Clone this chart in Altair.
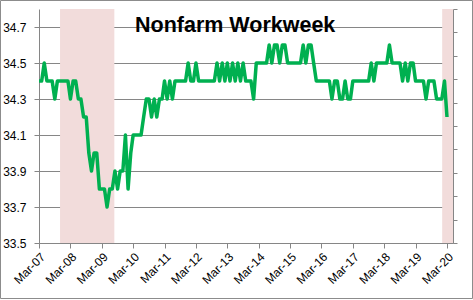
import altair as alt
import pandas as pd

# Average weekly hours, monthly from Mar-2007 to Mar-2020
START = "2007-03-01"
hours = [
    34.4, 34.4, 34.5, 34.4, 34.4, 34.4, 34.3, 34.4, 34.4, 34.4,  # Mar07-Dec07
    34.4, 34.4, 34.3, 34.4, 34.4, 34.3, 34.3, 34.2, 34.2, 34.0,  # Jan08-Oct08
    33.9, 34.0, 34.0, 33.8, 33.8, 33.8, 33.7, 33.8, 33.8, 33.9,  # Nov08-Aug09
    33.8, 33.9, 33.9, 34.1, 33.8, 34.0, 34.1, 34.1, 34.1, 34.1,  # Sep09-Jun10
    34.2, 34.3, 34.3, 34.2, 34.3, 34.2, 34.3, 34.3, 34.4, 34.3,  # Jul10-Apr11
    34.4, 34.3, 34.4, 34.4, 34.4, 34.4, 34.4, 34.5, 34.4, 34.4,  # May11-Feb12
    34.5, 34.4, 34.4, 34.4, 34.4, 34.4, 34.4, 34.4, 34.5, 34.4,  # Mar12-Dec12
    34.5, 34.4, 34.5, 34.4, 34.5, 34.4, 34.5, 34.4, 34.5, 34.4,  # Jan13-Oct13
    34.4, 34.4, 34.3, 34.5, 34.5, 34.5, 34.5, 34.5, 34.6, 34.5,  # Nov13-Aug14
    34.6, 34.6, 34.5, 34.6, 34.6, 34.5, 34.5, 34.5, 34.5, 34.5,  # Sep14-Jun15
    34.5, 34.6, 34.5, 34.6, 34.6, 34.5, 34.4, 34.4, 34.4, 34.4,  # Jul15-Apr16
    34.4, 34.4, 34.3, 34.4, 34.4, 34.3, 34.3, 34.4, 34.3, 34.3,  # May16-Feb17
    34.4, 34.4, 34.4, 34.4, 34.4, 34.4, 34.4, 34.5, 34.4, 34.5,  # Mar17-Dec17
    34.5, 34.5, 34.5, 34.5, 34.6, 34.5, 34.5, 34.5, 34.5, 34.4,  # Jan18-Oct18
    34.5, 34.4, 34.5, 34.5, 34.4, 34.4, 34.4, 34.4, 34.3, 34.4,  # Nov18-Aug19
    34.4, 34.4, 34.3, 34.3, 34.3, 34.4, 34.2,                    # Sep19-Mar20
]
rec_start = ["2007-11-01", "2020-01-05"]
rec_end = ["2009-07-25", "2020-05-10"]
y_ticks = [33.5, 33.7, 33.9, 34.1, 34.3, 34.5, 34.7]
x_years = list(range(2007, 2021))
TITLE = "Nonfarm Workweek"

df = pd.DataFrame({"date": pd.date_range(START, periods=len(hours), freq="MS"),
                   "hours": hours})
rec = pd.DataFrame({"start": pd.to_datetime(rec_start), "end": pd.to_datetime(rec_end)})

W, H = 414, 234
GRAY = "#868686"
FONT = "Liberation Sans"

x_dom = [alt.DateTime(year=2007, month=3, date=1), alt.DateTime(year=2020, month=5, date=10)]
x_scale = alt.Scale(domain=x_dom)
x_axis = alt.Axis(values=[alt.DateTime(year=y, month=3, date=1) for y in x_years],
                  format="%b-%y", labelAngle=-45, grid=False, domainColor=GRAY,
                  tickColor=GRAY, tickSize=5, labelFontSize=12, labelFont=FONT,
                  labelColor="#000000", labelPadding=3, labelOverlap=False,
                  labelBound=False, labelFlush=False, title=None)

shade = alt.Chart(rec).mark_rect(color="#F2DCDB").encode(
    x=alt.X("start:T", scale=x_scale, axis=x_axis),
    x2="end:T",
    y=alt.value(0), y2=alt.value(H),
)

line = alt.Chart(df).mark_line(color="#00B050", strokeWidth=3.5, strokeJoin="round").encode(
    x=alt.X("date:T", scale=x_scale, axis=x_axis),
    y=alt.Y("hours:Q", scale=alt.Scale(domain=[33.5, 34.8], nice=False, zero=False),
            axis=alt.Axis(values=y_ticks, format=".1f", grid=True, gridColor=GRAY,
                          domainColor=GRAY, tickColor=GRAY, tickSize=5,
                          labelFontSize=12, labelFont=FONT, labelColor="#000000",
                          labelPadding=8, title=None)),
)

right = alt.Chart(pd.DataFrame({"v": [0]})).mark_point(opacity=0).encode(
    y=alt.Y("v:Q", scale=alt.Scale(domain=[0, 10]),
            axis=alt.Axis(orient="right", values=list(range(11)), labels=False,
                          grid=False, domainColor=GRAY, tickColor=GRAY, tickSize=4,
                          title=None)),
)

title = alt.Chart(pd.DataFrame({"t": [TITLE]})).mark_text(
    font=FONT, fontSize=21.5, fontWeight="bold", align="left", baseline="alphabetic",
    color="#000000").encode(text="t:N", x=alt.value(96), y=alt.value(23))

border = alt.Chart(pd.DataFrame({"b": [0]})).mark_rect(
    fill=None, stroke="#8C8C8C", strokeWidth=1).encode(
    x=alt.value(-38.5), x2=alt.value(433.5), y=alt.value(-8.5), y2=alt.value(289.5))

chart = alt.layer(shade, line, right, title, border).resolve_scale(y="independent").properties(
    width=W, height=H,
    padding={"left": 39, "top": 9, "right": 20, "bottom": 57},
    autosize=alt.AutoSizeParams(type="none"),
    background="white",
).configure_view(strokeWidth=0)

chart.save("out.html", embed_options={"renderer": "svg", "actions": False})
